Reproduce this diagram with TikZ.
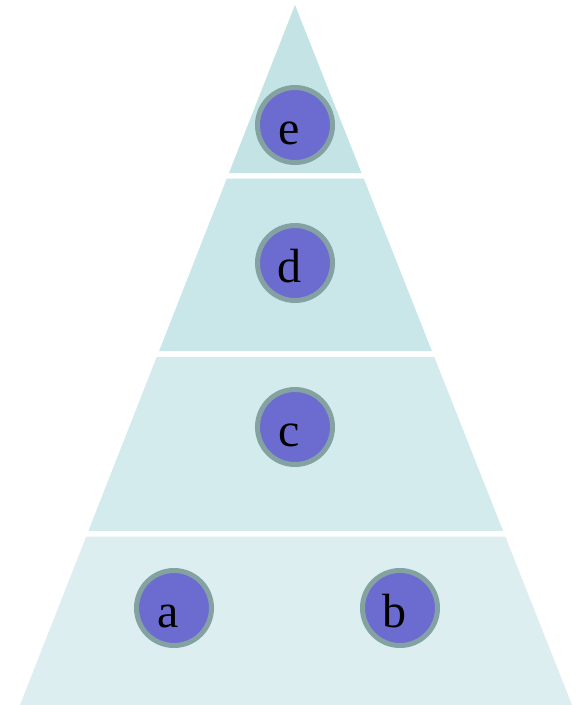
\documentclass[tikz,border=0pt]{standalone}
\usepackage{fontspec}
\setmainfont{Liberation Serif}
\begin{document}
\begin{tikzpicture}[x=1pt,y=-1pt,
  layer/.style={draw=none},
  ball/.style={circle,draw=ballrim,fill=ballfill,line width=5pt,minimum size=75pt,inner sep=0pt,
    text height=38pt,text depth=0pt,font=\fontsize{48}{48}\selectfont},
]
\definecolor{ballrim}{HTML}{85A2A3}
\definecolor{ballfill}{HTML}{6B6BD0}
\definecolor{layA}{HTML}{C3E3E5}
\definecolor{layB}{HTML}{C9E7E9}
\definecolor{layC}{HTML}{D4EBED}
\definecolor{layD}{HTML}{DDEEF0}
\useasboundingbox (0,0) rectangle (577,705);
\fill[layA] (295,5) -- (361.5,173) -- (229,173) -- cycle;
\fill[layB] (226.8,178.5) -- (363.7,178.5) -- (431.9,351) -- (159.1,351) -- cycle;
\fill[layC] (156.7,357) -- (434.3,357) -- (503.1,531) -- (88.3,531) -- cycle;
\fill[layD] (86.2,536.5) -- (505.3,536.5) -- (572,705) -- (20,705) -- cycle;
\node[ball] (e) at (295,125) {\makebox[0pt][c]{\kern-12pt e}};
\node[ball] (d) at (295,263) {\makebox[0pt][c]{\kern-12pt d}};
\node[ball] (c) at (295,427) {\makebox[0pt][c]{\kern-12pt c}};
\node[ball] (a) at (174,608) {\makebox[0pt][c]{\kern-12pt a}};
\node[ball] (b) at (400,608) {\makebox[0pt][c]{\kern-12pt b}};
\end{tikzpicture}
\end{document}
